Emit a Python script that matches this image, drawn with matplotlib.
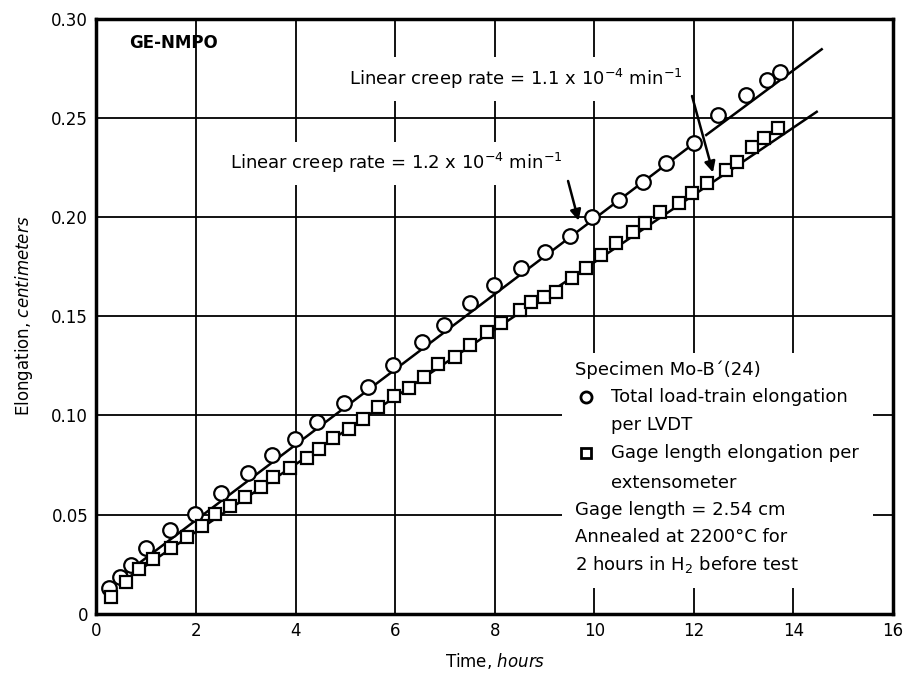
import matplotlib.pyplot as plt

plt.rcParams['font.family'] = ['DejaVu Sans']
plt.rcParams['mathtext.fontset'] = 'dejavusans'

# 数据：蠕变伸长随时间变化 (hours, cm)
t_lvdt = [0.26, 0.47, 0.69, 0.99, 1.48, 1.98, 2.50, 3.04, 3.52, 3.98, 4.44,
          4.98, 5.46, 5.96, 6.54, 6.98, 7.50, 7.99, 8.52, 9.01, 9.52, 9.96,
          10.49, 10.98, 11.45, 12.00, 12.49, 13.05, 13.48, 13.74]
e_lvdt = [0.0132, 0.0185, 0.0247, 0.0331, 0.0422, 0.0505, 0.0608, 0.0710,
          0.0803, 0.0883, 0.0969, 0.1065, 0.1142, 0.1254, 0.1369, 0.1456,
          0.1565, 0.1657, 0.1745, 0.1825, 0.1904, 0.2002, 0.2086, 0.2178,
          0.2270, 0.2371, 0.2514, 0.2615, 0.2690, 0.2732]

t_ext = [0.29, 0.59, 0.85, 1.14, 1.50, 1.82, 2.13, 2.38, 2.68, 2.98, 3.30,
         3.55, 3.89, 4.23, 4.47, 4.75, 5.07, 5.36, 5.65, 5.98, 6.28, 6.58,
         6.86, 7.20, 7.50, 7.85, 8.13, 8.50, 8.72, 9.00, 9.23, 9.55, 9.83,
         10.13, 10.43, 10.77, 11.03, 11.33, 11.70, 11.97, 12.27, 12.64,
         12.87, 13.17, 13.42, 13.70]
e_ext = [0.0087, 0.0163, 0.0225, 0.0276, 0.0331, 0.0386, 0.0445, 0.0502,
         0.0544, 0.0591, 0.0641, 0.0692, 0.0737, 0.0787, 0.0833, 0.0885,
         0.0930, 0.0981, 0.1041, 0.1100, 0.1140, 0.1195, 0.1258, 0.1296,
         0.1355, 0.1422, 0.1468, 0.1532, 0.1574, 0.1599, 0.1624, 0.1691,
         0.1742, 0.1809, 0.1871, 0.1926, 0.1968, 0.2027, 0.2069, 0.2123,
         0.2170, 0.2237, 0.2279, 0.2354, 0.2396, 0.2447]

# 拟合直线（端点）
fit_lvdt_1 = ([0.35, 12.0], [0.016, 0.237])
fit_lvdt_2 = ([12.25, 14.57], [0.2413, 0.2845])
fit_ext = ([0.5, 14.47], [0.016, 0.253])

x_ticks = [0, 2, 4, 6, 8, 10, 12, 14, 16]
y_ticks = [0, 0.05, 0.10, 0.15, 0.20, 0.25, 0.30]
y_ticklabels = ['0', '0.05', '0.10', '0.15', '0.20', '0.25', '0.30']

fig = plt.figure(figsize=(9.05, 6.73), dpi=100)
ax = fig.add_axes([0.1066, 0.0877, 0.88, 0.8848])

ax.set_xlim(0, 16)
ax.set_ylim(0, 0.30)
ax.set_xticks(x_ticks)
ax.set_yticks(y_ticks)
ax.set_yticklabels(y_ticklabels)
ax.tick_params(length=0, labelsize=12, pad=6)
ax.grid(True, color='black', linewidth=1.3, zorder=0)
ax.set_axisbelow(True)
for s in ax.spines.values():
    s.set_linewidth(2.5)

# 拟合线
for xs, ys in (fit_lvdt_1, fit_lvdt_2, fit_ext):
    ax.plot(xs, ys, color='black', linewidth=1.8, zorder=3)

ax.plot(t_lvdt, e_lvdt, linestyle='none', marker='o', markersize=10.5,
        markerfacecolor='white', markeredgecolor='black', markeredgewidth=1.6, zorder=4)
ax.plot(t_ext, e_ext, linestyle='none', marker='s', markersize=8,
        markerfacecolor='white', markeredgecolor='black', markeredgewidth=1.6, zorder=4)

ax.set_xlabel('Time, $\\it{hours}$', fontsize=12, labelpad=8)
ax.set_ylabel('Elongation, $\\it{centimeters}$', fontsize=12, labelpad=12)

ax.text(0.66, 0.2875, 'GE-NMPO', fontsize=12, fontweight='bold', va='center')

box = dict(facecolor='white', edgecolor='none', pad=7)
ax.text(5.07, 0.2695, 'Linear creep rate = 1.1 x 10$^{-4}$ min$^{-1}$',
        fontsize=13, va='center', bbox=box, zorder=2)
ax.text(2.69, 0.2270, 'Linear creep rate = 1.2 x 10$^{-4}$ min$^{-1}$',
        fontsize=13, va='center', bbox=box, zorder=2)

arrow = dict(arrowstyle='-|>', color='black', linewidth=1.8, mutation_scale=16)
ax.annotate('', xy=(9.70, 0.1968), xytext=(9.46, 0.2195), arrowprops=arrow, zorder=5)
ax.annotate('', xy=(12.40, 0.2211), xytext=(11.95, 0.2623), arrowprops=arrow, zorder=5)

# 图例说明框
ax.add_patch(plt.Rectangle((0.585, 0.0437), 0.3895, 0.3946, transform=ax.transAxes,
                           facecolor='white', edgecolor='none', zorder=2))
fs = 13
ax.text(0.601, 0.4097, 'Specimen Mo-B\u00b4(24)', transform=ax.transAxes, fontsize=fs, va='center', zorder=3)
ax.plot([0.615], [0.3649], transform=ax.transAxes, marker='o', markersize=8,
        markerfacecolor='white', markeredgecolor='black', markeredgewidth=2, zorder=3)
ax.text(0.646, 0.3649, 'Total load-train elongation', transform=ax.transAxes, fontsize=fs, va='center', zorder=3)
ax.text(0.646, 0.3174, 'per LVDT', transform=ax.transAxes, fontsize=fs, va='center', zorder=3)
ax.plot([0.615], [0.2699], transform=ax.transAxes, marker='s', markersize=7,
        markerfacecolor='white', markeredgecolor='black', markeredgewidth=2, zorder=3)
ax.text(0.646, 0.2699, 'Gage length elongation per', transform=ax.transAxes, fontsize=fs, va='center', zorder=3)
ax.text(0.646, 0.2205, 'extensometer', transform=ax.transAxes, fontsize=fs, va='center', zorder=3)
ax.text(0.601, 0.1746, 'Gage length = 2.54 cm', transform=ax.transAxes, fontsize=fs, va='center', zorder=3)
ax.text(0.601, 0.1288, 'Annealed at 2200\u00b0C for', transform=ax.transAxes, fontsize=fs, va='center', zorder=3)
ax.text(0.601, 0.0823, '2 hours in H$_2$ before test', transform=ax.transAxes, fontsize=fs, va='center', zorder=3)

fig.savefig('out.png', dpi=100)
